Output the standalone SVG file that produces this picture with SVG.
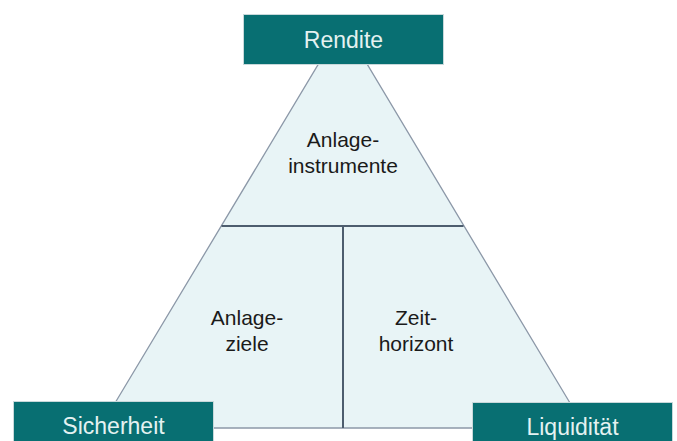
<svg xmlns="http://www.w3.org/2000/svg" width="677" height="441" viewBox="0 0 677 441">
<style>
.box{fill:#086f72;stroke:#c8d8da;stroke-width:1}
.bt{font-family:"Liberation Sans",Arial,sans-serif;font-size:23px;fill:#e4f2f1;text-anchor:middle}
.it{font-family:"Liberation Sans",Arial,sans-serif;font-size:21px;fill:#1a1a1a;text-anchor:middle}
.div{stroke:#4d5d6e;stroke-width:2;fill:none}
</style>
<rect width="677" height="441" fill="#ffffff"/>
<g id="triangle">
<polygon points="318.5,64 367,64 585,428 100,428" fill="#e8f4f6" stroke="#8c98a8" stroke-width="1.3"/>
</g>
<g id="connectors">
<line class="div" x1="221.5" y1="226" x2="463.5" y2="226"/>
<line class="div" x1="343" y1="226" x2="343" y2="428"/>
</g>
<g id="instrumente">
<text class="it" x="343" y="147">Anlage-</text>
<text class="it" x="343" y="173">instrumente</text>
</g>
<g id="ziele">
<text class="it" x="247" y="325">Anlage-</text>
<text class="it" x="247" y="351">ziele</text>
</g>
<g id="zeithorizont">
<text class="it" x="416" y="325">Zeit-</text>
<text class="it" x="416" y="351">horizont</text>
</g>
<g id="rendite">
<rect class="box" x="243.5" y="14.5" width="200" height="50"/>
<text class="bt" x="343.5" y="48">Rendite</text>
</g>
<g id="sicherheit">
<rect class="box" x="13.5" y="401.5" width="200" height="50"/>
<text class="bt" x="113.5" y="434">Sicherheit</text>
</g>
<g id="liquiditaet">
<rect class="box" x="472.5" y="402.5" width="200" height="50"/>
<text class="bt" x="572.5" y="435">Liquidität</text>
</g>
</svg>
